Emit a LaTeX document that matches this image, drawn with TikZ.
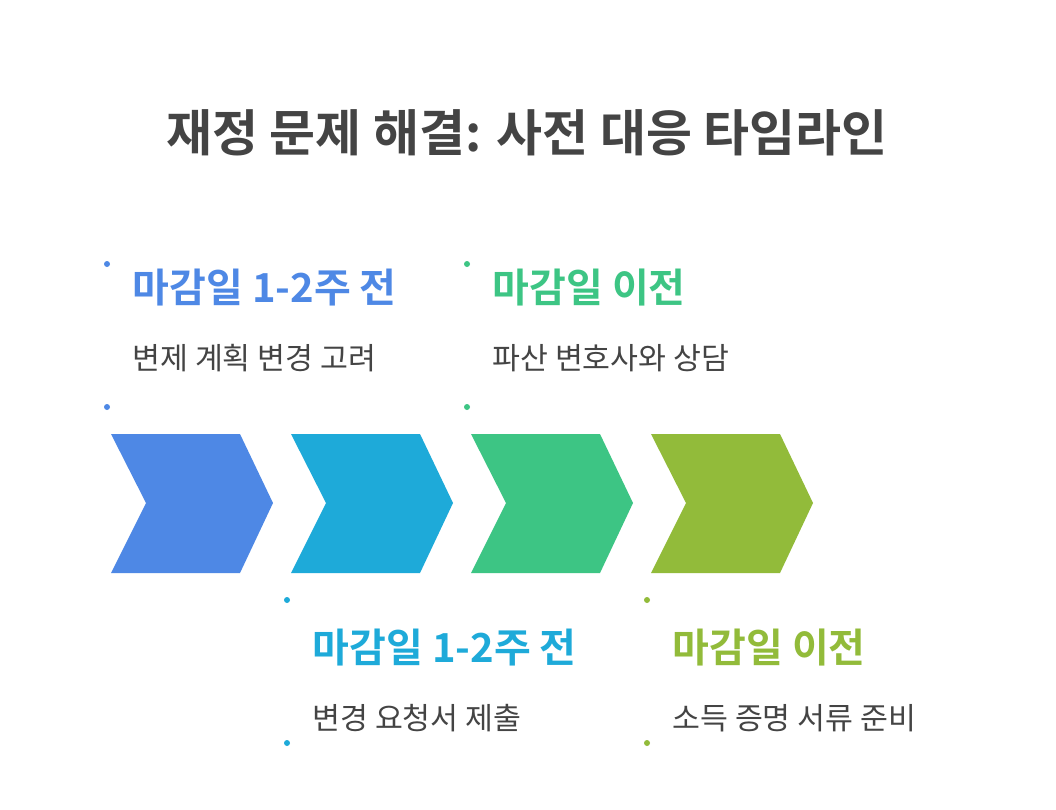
\documentclass[tikz,border=0pt]{standalone}
\usepackage{fontspec}
\setmainfont{Noto Sans CJK KR}
\newfontfamily\krb{Noto Sans CJK KR Bold}
\definecolor{cA}{HTML}{4E88E5}
\definecolor{cB}{HTML}{1EAAD9}
\definecolor{cC}{HTML}{3DC584}
\definecolor{cD}{HTML}{92BB3A}
\definecolor{txt}{HTML}{444444}
\begin{document}
\begin{tikzpicture}[x=1pt,y=-1pt,
  head/.style={anchor=west,font=\krb\fontsize{40}{44}\selectfont},
  sub/.style={anchor=west,text=txt,font=\fontsize{30.3}{34}\selectfont},
  dot/.style={circle,inner sep=0pt,minimum size=6pt}]
\useasboundingbox[fill=white] (0,0) rectangle (1056,809);
\node[text=txt,font=\krb\fontsize{50}{56}\selectfont] (title) at (527,133) {재정 문제 해결: 사전 대응 타임라인};
\foreach \i/\c in {0/cA,1/cB,2/cC,3/cD}{
  \fill[\c] ({111+180*\i},434) -- ({240+180*\i},434) -- ({273+180*\i},503) -- ({240+180*\i},573) -- ({111+180*\i},573) -- ({146+180*\i},503) -- cycle;
}
\node[dot,fill=cA] (d1) at (107,264) {}; \node[dot,fill=cA] (d2) at (107,407) {};
\node[dot,fill=cC] (d3) at (467,264) {}; \node[dot,fill=cC] (d4) at (467,407) {};
\node[dot,fill=cB] (d5) at (287,600) {}; \node[dot,fill=cB] (d6) at (287,743) {};
\node[dot,fill=cD] (d7) at (647,600) {}; \node[dot,fill=cD] (d8) at (647,743) {};
\node[head,text=cA] (h1) at (129,288) {마감일 1-2주 전};
\node[sub] (s1) at (129,358) {변제 계획 변경 고려};
\node[head,text=cC] (h2) at (489,288) {마감일 이전};
\node[sub] (s2) at (489,358) {파산 변호사와 상담};
\node[head,text=cB] (h3) at (309,648) {마감일 1-2주 전};
\node[sub] (s3) at (309,718) {변경 요청서 제출};
\node[head,text=cD] (h4) at (669,648) {마감일 이전};
\node[sub] (s4) at (669,718) {소득 증명 서류 준비};
\end{tikzpicture}
\end{document}
